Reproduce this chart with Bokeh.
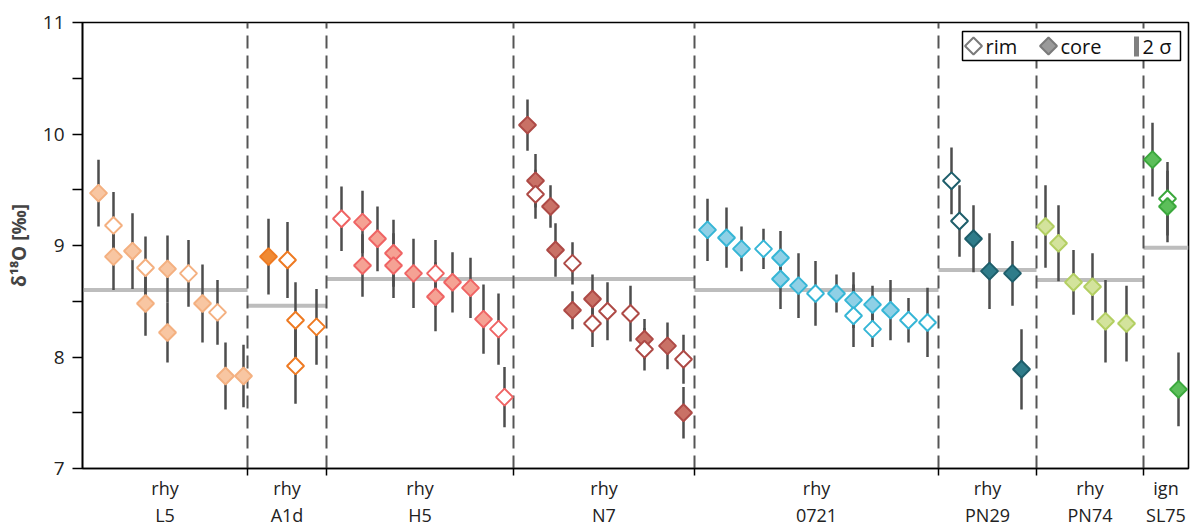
import math
from bokeh.plotting import figure
from bokeh.models import (ColumnDataSource, FixedTicker, CustomJSTickFormatter,
                          Range1d, LinearAxis)
from bokeh.core.properties import value
from bokeh.embed import file_html
from bokeh.resources import INLINE

# ---------------- data ----------------
group_names = ["L5", "A1d", "H5", "N7", "0721", "PN29", "PN74", "SL75"]
group_types = ["rhy", "rhy", "rhy", "rhy", "rhy", "rhy", "rhy", "ign"]
group_bounds = [0, 16.5, 24.4, 43.1, 61.2, 85.6, 95.4, 106.1, 110.6]
group_means = [8.60, 8.46, 8.70, 8.70, 8.60, 8.78, 8.69, 8.98]

group_fill = ["#F8C6A2", "#F08A34", "#F5A294", "#C97166", "#8FD0E6", "#2F7C8A", "#D3E39C", "#5CBF5A"]
group_edge = ["#F4B080", "#EE7A22", "#EF6464", "#AE4A46", "#36B6D6", "#1E5E6B", "#B3CF62", "#3BA83D"]

# position along axis, δ18O, 2σ, kind (c = core, r = rim)
L5_x = [1.6, 3.1, 3.1, 5.0, 6.3, 6.3, 8.5, 8.5, 10.6, 12.0, 13.5, 14.3, 16.1]
L5_y = [9.47, 9.18, 8.90, 8.95, 8.80, 8.48, 8.79, 8.22, 8.75, 8.48, 8.40, 7.83, 7.83]
L5_e = [0.30, 0.30, 0.30, 0.34, 0.28, 0.29, 0.30, 0.27, 0.30, 0.35, 0.29, 0.30, 0.28]
L5_k = ["c", "r", "c", "c", "r", "c", "c", "c", "r", "c", "r", "c", "c"]

A1d_x = [18.6, 20.5, 21.3, 21.3, 23.4]
A1d_y = [8.90, 8.87, 8.33, 7.92, 8.27]
A1d_e = [0.34, 0.34, 0.34, 0.34, 0.34]
A1d_k = ["c", "r", "r", "r", "r"]

H5_x = [25.9, 28.0, 28.0, 29.5, 31.1, 31.1, 33.1, 35.3, 35.3, 37.0, 38.8, 40.1, 41.6, 42.2]
H5_y = [9.24, 9.21, 8.82, 9.06, 8.93, 8.82, 8.75, 8.75, 8.54, 8.67, 8.62, 8.34, 8.25, 7.64]
H5_e = [0.29, 0.28, 0.28, 0.29, 0.30, 0.29, 0.31, 0.30, 0.31, 0.27, 0.27, 0.31, 0.32, 0.27]
H5_k = ["r", "c", "c", "c", "c", "c", "c", "r", "c", "c", "c", "c", "r", "r"]

N7_x = [44.5, 45.3, 45.3, 46.8, 47.3, 49.0, 49.0, 51.0, 51.0, 52.5, 54.8, 56.2, 56.2, 58.5, 60.1, 60.1]
N7_y = [10.08, 9.58, 9.46, 9.35, 8.96, 8.84, 8.42, 8.52, 8.30, 8.41, 8.39, 8.16, 8.07, 8.10, 7.98, 7.50]
N7_e = [0.23, 0.24, 0.22, 0.19, 0.24, 0.19, 0.17, 0.22, 0.21, 0.26, 0.25, 0.18, 0.19, 0.21, 0.22, 0.23]
N7_k = ["c", "c", "r", "c", "c", "r", "c", "c", "r", "r", "r", "c", "r", "c", "r", "c"]

S0721_x = [62.5, 64.4, 65.9, 68.1, 69.8, 69.8, 71.6, 73.3, 75.4, 77.1, 77.1, 79.0, 79.0, 80.8, 82.6, 84.5]
S0721_y = [9.14, 9.07, 8.97, 8.97, 8.89, 8.70, 8.64, 8.57, 8.57, 8.51, 8.37, 8.47, 8.25, 8.42, 8.33, 8.31]
S0721_e = [0.28, 0.27, 0.20, 0.18, 0.24, 0.27, 0.29, 0.29, 0.17, 0.25, 0.28, 0.17, 0.16, 0.27, 0.20, 0.31]
S0721_k = ["c", "c", "c", "r", "c", "c", "c", "r", "c", "c", "r", "c", "r", "c", "r", "r"]

PN29_x = [86.9, 87.7, 89.1, 90.7, 93.0, 93.9]
PN29_y = [9.58, 9.22, 9.06, 8.77, 8.75, 7.89]
PN29_e = [0.30, 0.32, 0.30, 0.34, 0.29, 0.36]
PN29_k = ["r", "r", "c", "c", "c", "c"]

PN74_x = [96.3, 97.6, 99.1, 101.0, 102.3, 104.4]
PN74_y = [9.17, 9.02, 8.67, 8.63, 8.32, 8.30]
PN74_e = [0.37, 0.34, 0.29, 0.30, 0.37, 0.34]
PN74_k = ["c", "c", "c", "c", "c", "c"]

SL75_x = [107.0, 108.5, 108.5, 109.6]
SL75_y = [9.77, 9.42, 9.35, 7.71]
SL75_e = [0.33, 0.33, 0.32, 0.33]
SL75_k = ["c", "r", "c", "c"]

legend_labels = ["rim", "core", "2 σ"]

groups = [
    (L5_x, L5_y, L5_e, L5_k),
    (A1d_x, A1d_y, A1d_e, A1d_k),
    (H5_x, H5_y, H5_e, H5_k),
    (N7_x, N7_y, N7_e, N7_k),
    (S0721_x, S0721_y, S0721_e, S0721_k),
    (PN29_x, PN29_y, PN29_e, PN29_k),
    (PN74_x, PN74_y, PN74_e, PN74_k),
    (SL75_x, SL75_y, SL75_e, SL75_k),
]

# ---------------- build sources ----------------
xs, ys, lo, hi, fills, edges = [], [], [], [], [], []
for gi, (gx, gy, ge, gk) in enumerate(groups):
    for x, y, e, k in zip(gx, gy, ge, gk):
        xs.append(x)
        ys.append(y)
        lo.append(y - e)
        hi.append(y + e)
        fills.append(group_fill[gi] if k == "c" else "#FFFFFF")
        edges.append(group_edge[gi])

pts = ColumnDataSource(dict(x=xs, y=ys, lo=lo, hi=hi, fill=fills, edge=edges))

FONT = "Open Sans"
YMIN, YMAX = 7, 11

# layout (pixels)
W, H = 1197, 531
BL, BR, BT, BB = 82, 9, 22, 63
FW, FH = W - BL - BR, H - BT - BB

p = figure(width=W, height=H, output_backend="svg", toolbar_location=None,
           x_range=Range1d(group_bounds[0], group_bounds[-1]),
           y_range=Range1d(YMIN, YMAX),
           x_axis_location=None,
           min_border_left=BL, min_border_right=BR, min_border_top=BT, min_border_bottom=BB)
p.background_fill_color = "white"
p.border_fill_color = "white"
p.outline_line_color = "black"
p.outline_line_width = 1.6
p.xgrid.visible = False
p.ygrid.visible = False

# mean lines
p.segment(x0=group_bounds[:-1], x1=group_bounds[1:], y0=group_means, y1=group_means,
          line_color="#BDBDBD", line_width=4)

# separators
inner = group_bounds[1:-1]
p.segment(x0=inner, x1=inner, y0=[YMIN] * len(inner), y1=[YMAX] * len(inner),
          line_color="#555555", line_width=2, line_dash="13 7")

# error bars
p.segment(x0="x", x1="x", y0="lo", y1="hi", source=pts, line_color="#4D4D4D", line_width=2.5)

# diamonds
p.scatter(x="x", y="y", source=pts, marker="square", angle=math.pi / 4, size=12,
          fill_color="fill", line_color="edge", line_width=2)

# ---------------- axes ----------------
yax = p.yaxis[0]
yax.ticker = FixedTicker(ticks=[7, 8, 9, 10, 11], minor_ticks=[7.5, 8.5, 9.5, 10.5])
yax.axis_label = "δ¹⁸O [‰]"
yax.axis_label_text_font = FONT
yax.axis_label_text_font_style = "bold"
yax.axis_label_text_font_size = "19px"
yax.axis_label_standoff = 8
yax.major_label_text_font = FONT
yax.major_label_text_font_size = "19px"
yax.major_label_text_color = "#222222"
yax.major_label_standoff = 8
yax.major_tick_out = 10
yax.major_tick_in = 0
yax.minor_tick_out = 10
yax.minor_tick_in = 0
yax.major_tick_line_width = 1.5
yax.minor_tick_line_width = 1.5
yax.axis_line_width = 1.6
yax.major_tick_line_color = "black"
yax.minor_tick_line_color = "black"

centers = [(a + b) / 2 for a, b in zip(group_bounds[:-1], group_bounds[1:])]

# first bottom axis: separator ticks + rock type
ax1 = LinearAxis(ticker=FixedTicker(ticks=centers, minor_ticks=inner),
                 formatter=CustomJSTickFormatter(args=dict(names=group_types),
                                                 code="return names[index];"))
ax1.major_tick_line_color = None
ax1.major_tick_out = 0
ax1.major_tick_in = 0
ax1.minor_tick_out = 7
ax1.minor_tick_in = 0
ax1.minor_tick_line_color = "black"
ax1.minor_tick_line_width = 1.5
ax1.axis_line_width = 1.6
ax1.major_label_text_font = FONT
ax1.major_label_text_font_size = "18px"
ax1.major_label_text_color = "#222222"
ax1.major_label_standoff = 0
p.add_layout(ax1, "below")

# second bottom axis: sample names
ax2 = LinearAxis(ticker=FixedTicker(ticks=centers, minor_ticks=[]),
                 formatter=CustomJSTickFormatter(args=dict(names=group_names),
                                                 code="return names[index];"))
ax2.axis_line_color = None
ax2.major_tick_line_color = None
ax2.minor_tick_line_color = None
ax2.major_tick_out = 0
ax2.major_tick_in = 0
ax2.minor_tick_out = 0
ax2.minor_tick_in = 0
ax2.major_label_text_font = FONT
ax2.major_label_text_font_size = "18px"
ax2.major_label_text_color = "#222222"
ax2.major_label_standoff = 0
p.add_layout(ax2, "below")

# ---------------- legend (drawn by hand inside the frame) ----------------
def dx(px):  # page pixel -> data x
    return group_bounds[0] + (px - BL) * (group_bounds[-1] - group_bounds[0]) / FW

def dy(py):  # page pixel -> data y
    return YMAX - (py - BT) * (YMAX - YMIN) / FH

p.quad(left=[dx(962)], right=[dx(1180)], top=[dy(31)], bottom=[dy(60)],
       fill_color="white", line_color="black", line_width=1.5)
p.scatter(x=[dx(973), dx(1048)], y=[dy(45.5)] * 2, marker="square", angle=math.pi / 4, size=12,
          fill_color=["white", "#9A9A9A"], line_color="#7A7A7A", line_width=2)
p.segment(x0=[dx(1136)], x1=[dx(1136)], y0=[dy(36)], y1=[dy(56)], line_color="#808080", line_width=5)
p.text(x=[dx(985), dx(1060)], y=[dy(45.5)] * 2, text=legend_labels[:2],
       text_font=value(FONT), text_font_size="20px", text_baseline="middle", text_align="left",
       text_color="#111111")
p.text(x=[dx(1142)], y=[dy(45.5)], text=legend_labels[2:],
       text_font=value(FONT), text_font_size="20px", text_baseline="middle", text_align="left",
       text_color="#111111")

open("out.html", "w").write(file_html(p, INLINE))
